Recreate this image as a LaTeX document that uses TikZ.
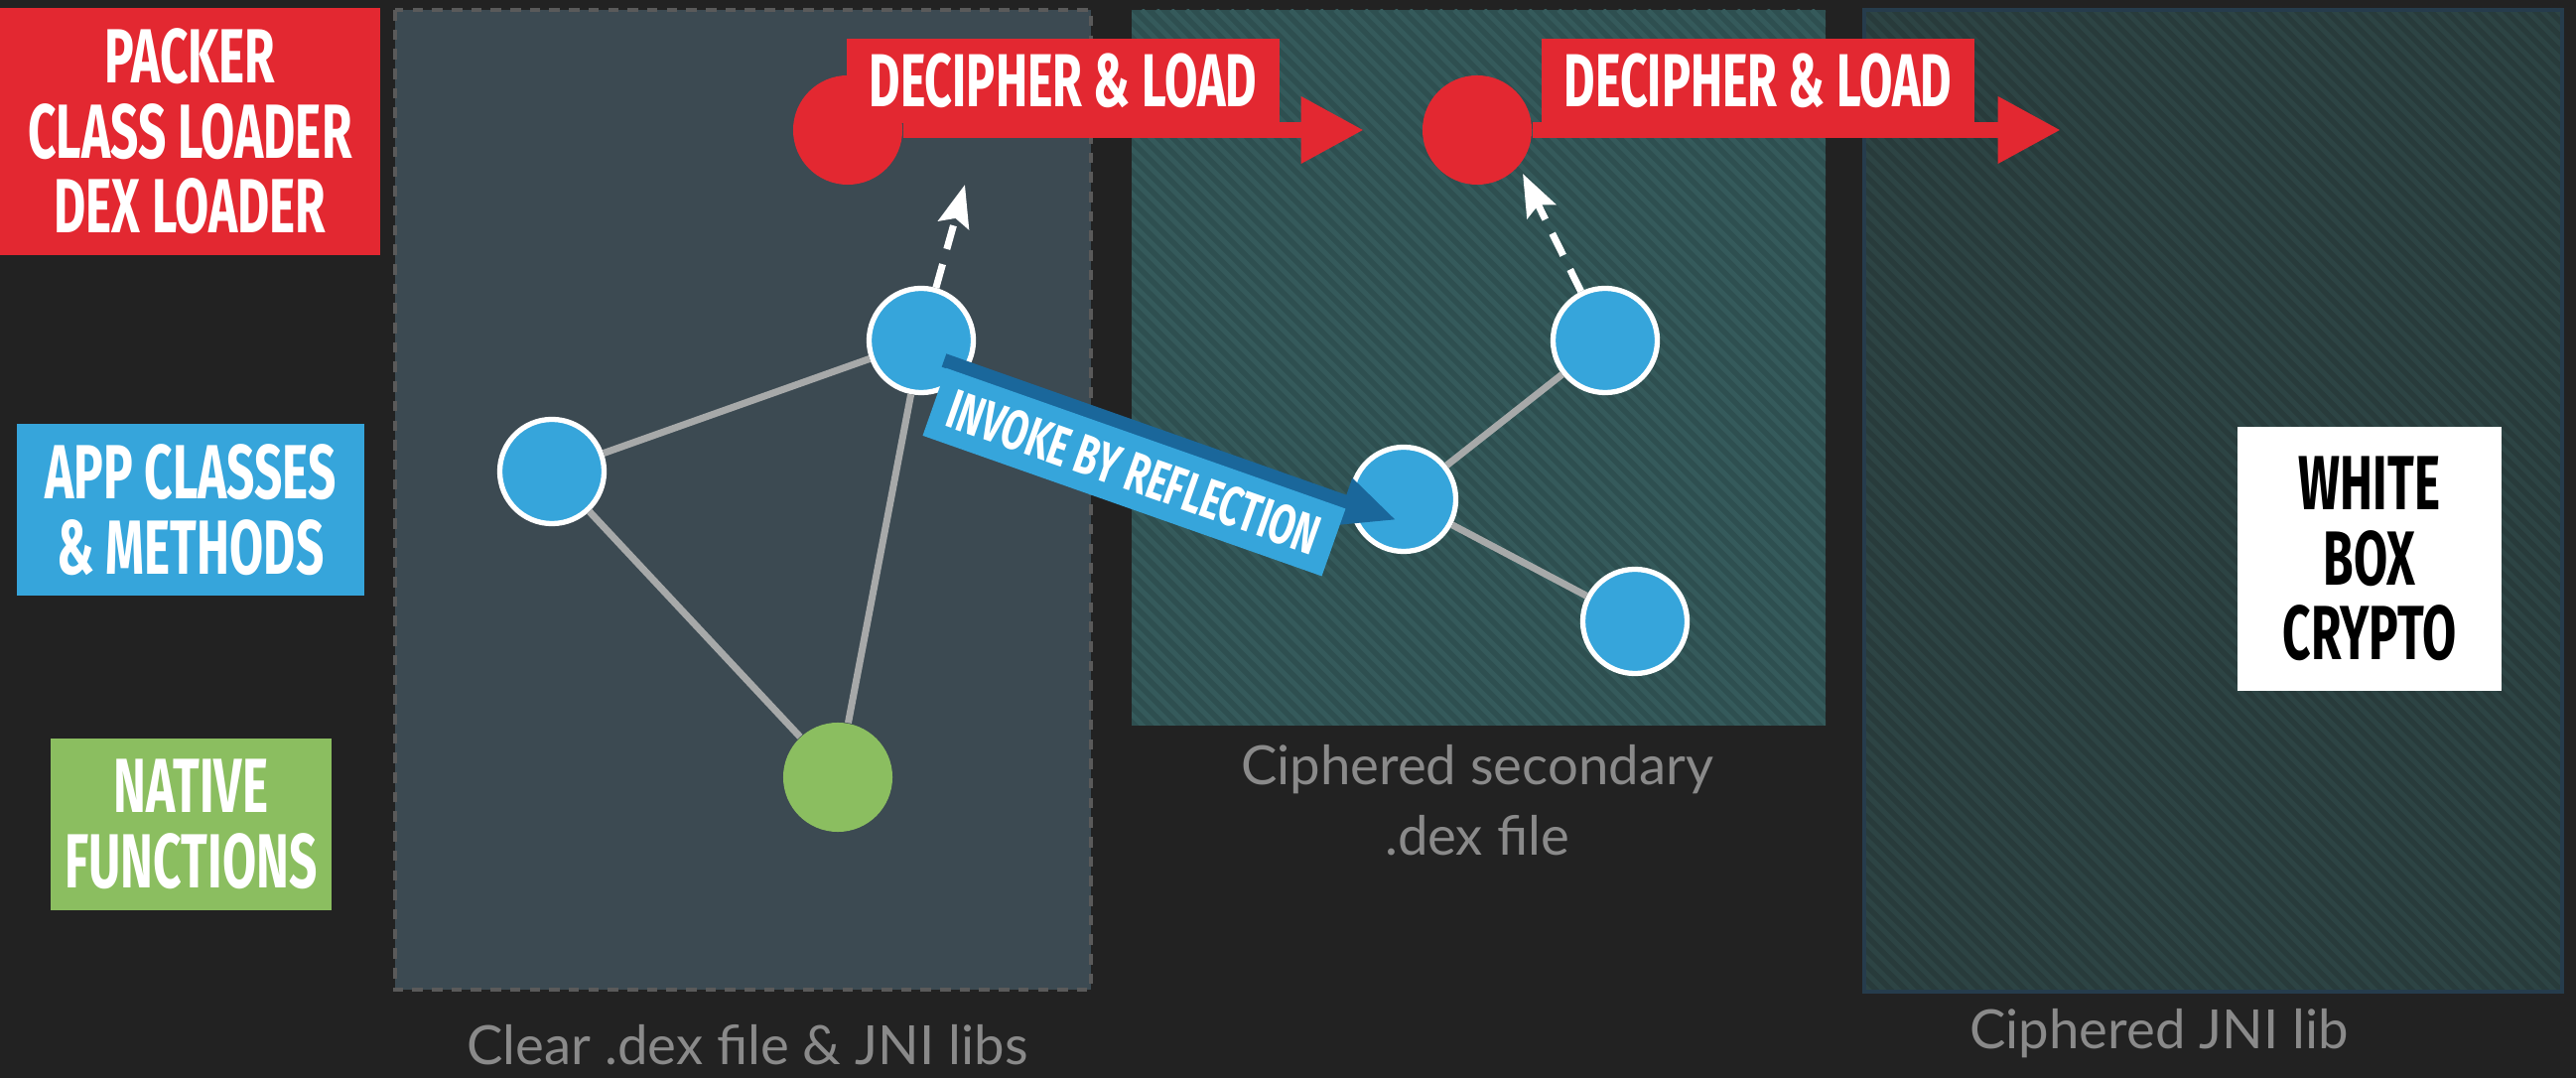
\documentclass[tikz,border=0pt]{standalone}
\usepackage{fontspec}
\usetikzlibrary{arrows.meta}

\newfontfamily\dinfont[FakeStretch=0.64]{Fira Sans}
\newfontfamily\wideinfont[FakeStretch=0.67]{Fira Sans}
\newfontfamily\capfont{Lato}

\definecolor{bgdark}{HTML}{222222}
\definecolor{clearpanel}{HTML}{3C4A52}
\definecolor{dashgray}{HTML}{5A5A5A}
\definecolor{dexpanel}{HTML}{2E4F50}
\definecolor{dexstripe}{HTML}{355A5B}
\definecolor{jnipanel}{HTML}{283B3B}
\definecolor{jnistripe}{HTML}{2D4444}
\definecolor{jniborder}{HTML}{263C4C}
\definecolor{loaderred}{HTML}{E32831}
\definecolor{appblue}{HTML}{36A5DB}
\definecolor{invokeblue}{HTML}{1A679B}
\definecolor{nativegreen}{HTML}{8BBE60}
\definecolor{edgegray}{HTML}{A7A9A9}
\definecolor{captiongray}{HTML}{8A8A8A}

\tikzset{
  legend/.style={inner sep=0pt, text=white, align=center,
    font=\dinfont\bfseries\fontsize{22}{21.5}\selectfont},
  appnode/.style={circle, fill=appblue, draw=white, line width=1.5pt,
    minimum size=1.05cm, inner sep=0pt},
  nativenode/.style={circle, fill=nativegreen, minimum size=1.1cm, inner sep=0pt},
  loadernode/.style={circle, fill=loaderred, minimum size=1.1cm, inner sep=0pt},
  link/.style={edgegray, line width=2pt},
  loadarrow/.style={loaderred, line width=4.3pt, -{Triangle[length=18pt,width=18pt]}},
  loadbox/.style={fill=loaderred, text=white, anchor=north west, inner sep=0pt,
    minimum width=4.36cm, minimum height=0.855cm,
    font=\dinfont\bfseries\fontsize{21.5}{21.5}\selectfont},
  calls/.style={white, line width=2pt, dash pattern=on 7pt off 4.5pt,
    -{Stealth[length=12pt,width=9pt,inset=2pt]}},
  invokearrow/.style={invokeblue, line width=4pt, -{Triangle[length=16pt,width=13pt]}},
  invokebox/.style={fill=appblue, text=white, inner sep=0pt,
    minimum width=4.26cm, minimum height=0.72cm,
    font=\wideinfont\bfseries\fontsize{16}{16}\selectfont},
  caption/.style={text=captiongray, align=center, inner sep=0pt,
    font=\capfont\fontsize{15.5}{20}\selectfont}
}

\begin{document}
\begin{tikzpicture}[x=0.01cm, y=-0.01cm]
% Background
\fill[bgdark] (0,0) rectangle (2595,1086);
\useasboundingbox (0,0) rectangle (2595,1086);

% Draw the three file panels
\filldraw[fill=clearpanel, draw=dashgray, line width=1.1pt, dash pattern=on 3pt off 2.6pt]
  (398,10) rectangle (1099,997);
\fill[dexpanel] (1140,10) rectangle (1839,731);
\begin{scope}
  \clip (1140,10) rectangle (1839,731);
  \foreach \a in {415,430,...,1840}
    \draw[dexstripe, line width=1.4pt] (\a,10) -- ++(1000,1000);
\end{scope}
\fill[jnipanel] (1878,10) rectangle (2581,999);
\begin{scope}
  \clip (1878,10) rectangle (2581,999);
  \foreach \a in {880,895,...,2590}
    \draw[jnistripe, line width=1.4pt] (\a,10) -- ++(1000,1000);
\end{scope}
\draw[jniborder, line width=1.2pt] (1878,10) rectangle (2581,999);

% Legend
\node[legend, fill=loaderred, minimum width=3.83cm, minimum height=2.49cm] (packer) at (191.5,132.5)
  {PACKER\\CLASS LOADER\\DEX LOADER};
\node[legend, fill=appblue, minimum width=3.5cm, minimum height=1.73cm] (appkey) at (192,513.5)
  {APP CLASSES\\\& METHODS};
\node[legend, fill=nativegreen, minimum width=2.83cm, minimum height=1.73cm] (nativekey) at (192.5,830.5)
  {NATIVE\\FUNCTIONS};

% Classes and functions
\node[loadernode] (unpack1) at (854,131) {};
\node[loadernode] (unpack2) at (1488,131) {};
\node[appnode] (cls1) at (556,475) {};
\node[appnode] (cls2) at (928,343) {};
\node[nativenode] (jni) at (844,783) {};
\node[appnode] (sec1) at (1414,503) {};
\node[appnode] (sec2) at (1617,343) {};
\node[appnode] (sec3) at (1647,626) {};

\draw[link] (cls1) -- (cls2);
\draw[link] (cls1) -- (jni);
\draw[link] (cls2) -- (jni);
\draw[link] (sec1) -- (sec2);
\draw[link] (sec1) -- (sec3);

% Decipher and load steps
\coordinate (load1) at (1374,131);
\coordinate (load2) at (2076,131);
\draw[loadarrow] (unpack1) -- (load1);
\draw[loadarrow] (unpack2) -- (load2);
\node[loadbox] (lbl1) at (852,38) {DECIPHER \& LOAD};
\node[loadbox] (lbl2) at (1552,38) {DECIPHER \& LOAD};

% Calls into the loader
\coordinate (hook1) at (972,186);
\coordinate (hook2) at (1534,175);
\draw[calls] (cls2) -- (hook1);
\draw[calls] (sec2) -- (hook2);

% Reflection call
\coordinate (invs) at (951,363);
\coordinate (invt) at (1407,524);
\draw[invokearrow] (invs) -- (invt);
\node[invokebox, rotate=-19.4, anchor=north west] (invlbl) at (953,370) {INVOKE BY REFLECTION};

\node[legend, fill=white, text=black, minimum width=2.66cm, minimum height=2.66cm] (wbc) at (2387,563)
  {WHITE\\BOX\\CRYPTO};

% Captions
\node[caption, anchor=base] (cap1) at (753,1072) {Clear .dex file \& JNI libs};
\node[caption] (cap2) at (1488,806) {Ciphered secondary\\.dex file};
\node[caption, anchor=base] (cap3) at (2175,1056) {Ciphered JNI lib};
\end{tikzpicture}
\end{document}
